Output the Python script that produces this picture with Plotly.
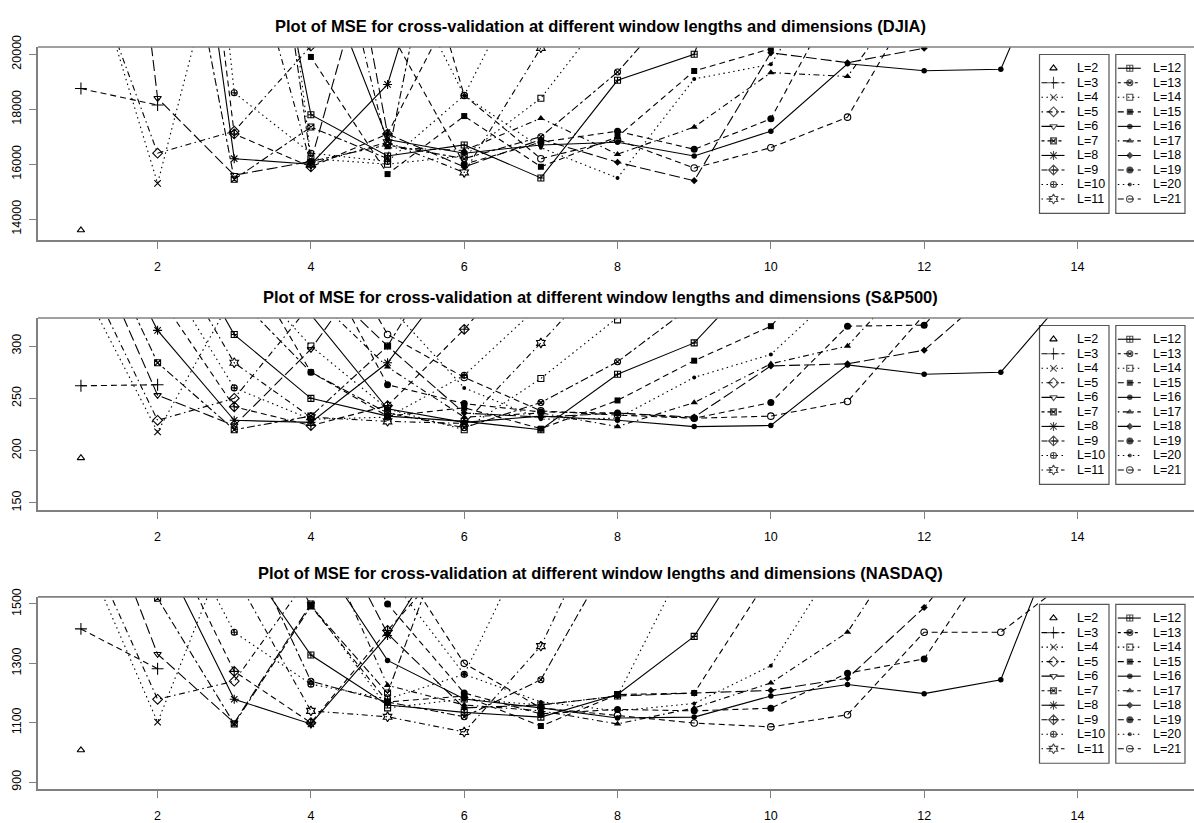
import plotly.graph_objects as go

# ---------------- data ----------------
WINDOWS = list(range(2, 22))          # L = 2 .. 21 ; dimensions 1 .. L-1
X_TICKS = [2, 4, 6, 8, 10, 12, 14]

DJIA_TICKS = [14000, 16000, 18000, 20000]
SP_TICKS = [150, 200, 250, 300]
NASDAQ_TICKS = [900, 1100, 1300, 1500]

DJIA_YLIM = [13500, 20000]
SP_YLIM = [150, 320]
NASDAQ_YLIM = [900, 1500]

DJIA_MSE = [
    [13600],
    [18750, 18150],
    [24500, 15300, 26000],
    [24000, 16400, 17200, 20300],
    [42000, 18400, 15600, 16100, 26000],
    [48000, 30000, 15450, 17350, 16200, 30000],
    [52000, 36000, 16200, 16000, 18900, 28000, 40000],
    [55000, 40000, 17100, 15900, 17100, 22500, 32000, 45000],
    [60000, 45000, 18600, 16400, 16100, 18500, 24000, 32000, 45000],
    [62000, 50000, 26000, 16000, 16800, 15700, 20230, 27000, 36000, 48000],
    [65000, 52000, 32000, 17800, 16300, 16700, 15500, 19050, 20000, 28000, 40000],
    [68000, 56000, 36000, 16100, 16700, 16200, 17000, 19350, 22500, 30000, 40000, 52000],
    [70000, 58000, 40000, 16200, 16000, 16300, 18400, 22000, 28000, 34000, 42000, 52000, 62000],
    [72000, 60000, 45000, 19900, 15640, 17750, 15905, 17000, 19390, 20200, 25000, 32000, 40000, 50000],
    [75000, 62000, 48000, 24000, 16900, 16400, 16700, 16800, 16300, 17200, 19650, 19400, 19450, 26000, 35000],
    [78000, 65000, 50000, 28000, 16600, 16500, 17670, 16360, 17350, 19330, 19190, 23000, 28000, 34000, 42000, 52000],
    [80000, 68000, 52000, 32000, 17100, 15900, 16900, 16070, 15400, 20050, 19690, 20220, 25000, 30000, 38000, 46000, 56000],
    [82000, 70000, 55000, 36000, 21000, 16000, 16800, 17200, 16540, 17650, 22500, 28000, 34000, 40000, 48000, 56000, 64000, 72000],
    [85000, 72000, 58000, 40000, 24000, 18500, 16600, 15500, 19100, 19630, 24000, 30000, 36000, 44000, 52000, 60000, 68000, 76000, 84000],
    [88000, 75000, 60000, 44000, 28000, 18500, 16200, 16890, 15860, 16600, 17710, 22500, 28000, 34000, 42000, 50000, 58000, 66000, 74000, 82000],
]

SP_MSE = [
    [193],
    [262, 263],
    [360, 218, 350],
    [380, 229, 250, 340],
    [420, 253, 224, 297, 400],
    [440, 284, 220, 233, 300, 420],
    [460, 315, 229, 227, 284, 380, 460],
    [480, 350, 242, 224, 243, 316, 400, 480],
    [500, 380, 260, 230, 232, 272, 340, 420, 500],
    [520, 410, 284, 232, 228, 226, 303, 380, 460, 540],
    [540, 440, 311, 250, 233, 228, 220, 273, 303, 380, 460],
    [560, 470, 350, 275, 236, 222, 246, 285, 340, 420, 500, 580],
    [580, 500, 380, 300, 240, 220, 269, 325, 380, 440, 500, 560, 620],
    [600, 520, 400, 275, 233, 241, 221, 248, 286, 319, 400, 480, 560, 640],
    [620, 540, 420, 330, 240, 227, 233, 229, 223, 224, 282, 273, 275, 360, 440],
    [640, 560, 450, 350, 280, 232, 236, 223, 246, 283, 300, 380, 460, 540, 620, 700],
    [660, 580, 470, 370, 300, 236, 232, 236, 232, 281, 283, 296, 360, 440, 520, 600, 680],
    [680, 600, 500, 400, 263, 245, 237, 236, 231, 246, 319, 320, 400, 480, 560, 640, 720, 800],
    [700, 620, 520, 420, 340, 260, 230, 231, 270, 292, 360, 440, 520, 600, 680, 760, 840, 920, 1000],
    [720, 640, 540, 440, 311, 270, 238, 234, 231, 233, 247, 330, 420, 500, 580, 660, 740, 820, 900, 980],
]

NASDAQ_MSE = [
    [1008],
    [1416, 1282],
    [1700, 1102, 1750],
    [1750, 1179, 1240, 1600],
    [2000, 1331, 1100, 1500, 1900],
    [2200, 1519, 1096, 1493, 1200, 1900],
    [2400, 1700, 1179, 1096, 1394, 1800, 2200],
    [2500, 1800, 1273, 1100, 1411, 1700, 2100, 2500],
    [2600, 1900, 1405, 1230, 1180, 1263, 1800, 2200, 2600],
    [2700, 2000, 1600, 1140, 1120, 1069, 1358, 1900, 2300, 2700],
    [2800, 2100, 1700, 1328, 1160, 1135, 1119, 1195, 1391, 1800, 2200],
    [2900, 2200, 1800, 1240, 1170, 1120, 1245, 1700, 2000, 2300, 2600, 2900],
    [3000, 2300, 1900, 1500, 1150, 1180, 1160, 1190, 1700, 2000, 2300, 2600, 2900],
    [3100, 2400, 2000, 1493, 1170, 1190, 1089, 1195, 1200, 1600, 1900, 2200, 2500, 2800],
    [3200, 2500, 2100, 1700, 1310, 1180, 1150, 1116, 1119, 1190, 1229, 1198, 1245, 1900, 2300],
    [3300, 2600, 2200, 1800, 1226, 1160, 1140, 1096, 1150, 1234, 1405, 1800, 2100, 2400, 2700, 3000],
    [3400, 2700, 2300, 1900, 1400, 1150, 1160, 1190, 1200, 1209, 1250, 1488, 1800, 2100, 2400, 2700, 3000],
    [3500, 2800, 2400, 2000, 1500, 1200, 1130, 1145, 1140, 1149, 1267, 1315, 1700, 2000, 2300, 2600, 2900, 3200],
    [3600, 2900, 2500, 2100, 1600, 1263, 1170, 1140, 1165, 1292, 1700, 2000, 2300, 2600, 2900, 3200, 3500, 3800, 4100],
    [3700, 3000, 2600, 2200, 1700, 1300, 1150, 1125, 1099, 1086, 1127, 1405, 1405, 1603, 1900, 2200, 2500, 2800, 3100, 3400],
]

TITLES = [
    "Plot of MSE for cross-validation at different window lengths and dimensions (DJIA)",
    "Plot of MSE for cross-validation at different window lengths and dimensions (S&P500)",
    "Plot of MSE for cross-validation at different window lengths and dimensions (NASDAQ)",
]

# ---------------- styles ----------------
W, H = 1194, 823
FONT = "Liberation Sans, Arial, sans-serif"
FRAME = "#808080"

SYMBOLS = {
    2: ("triangle-up-open", 6.5), 3: ("cross-thin-open", 8.5), 4: ("x-thin-open", 6.5),
    5: ("diamond-open", 7.5), 6: ("triangle-down-open", 6.5), 7: ("square-x-open", 6),
    8: ("asterisk-open", 7.5), 9: ("diamond-cross-open", 7.5), 10: ("circle-cross-open", 6),
    11: ("hexagram-open", 7.5), 12: ("square-cross-open", 6), 13: ("circle-x-open", 6),
    14: ("square-open", 6), 15: ("square", 6), 16: ("circle", 5.5), 17: ("triangle-up", 6.5),
    18: ("diamond", 5.5), 19: ("circle", 7), 20: ("circle", 4), 21: ("circle-open", 6.5),
}
LTY = {2: "solid", 3: "dashed", 4: "dotted", 5: "dotdash", 6: "longdash", 7: "twodash",
       8: "solid", 9: "dashed", 10: "dotted", 11: "dotdash", 12: "solid", 13: "twodash",
       14: "dotted", 15: "dashed", 16: "solid", 17: "dotdash", 18: "longdash", 19: "dashed",
       20: "dotted", 21: "dashed"}
DASH = {"solid": "solid", "dashed": "6px,4px", "dotted": "1.5px,3.5px",
        "dotdash": "1.5px,3.5px,6px,3.5px", "longdash": "11px,4px",
        "twodash": "3px,3px,8px,3px"}


def marker_for(L):
    sym, size = SYMBOLS[L]
    is_open = sym.endswith("-open")
    return dict(symbol=sym, size=size, color="black",
                line=dict(color="black", width=1.1 if is_open else 0))


# plot-area pixel geometry (top, bottom) for each panel
PANEL_PX = [(35.7, 232.3), (311.7, 507.3), (595.7, 791.7)]
LEFT_PX = 38.0
X_RANGE = [0.44, 15.52]
TITLE_Y = [14.0, 290.5, 571.0]

panels = [
    (DJIA_MSE, DJIA_YLIM, DJIA_TICKS),
    (SP_MSE, SP_YLIM, SP_TICKS),
    (NASDAQ_MSE, NASDAQ_YLIM, NASDAQ_TICKS),
]

fig = go.Figure()
layout = dict(
    width=W, height=H, margin=dict(l=0, r=0, t=0, b=0),
    paper_bgcolor="white", plot_bgcolor="rgba(0,0,0,0)",
    showlegend=False, font=dict(family=FONT, size=12, color="black"),
    shapes=[], annotations=[],
)

for p, (data, ylim, yticks) in enumerate(panels):
    sfx = "" if p == 0 else str(p + 1)
    top, bot = PANEL_PX[p]
    pad = (ylim[1] - ylim[0]) * 0.04
    for L, vals in zip(WINDOWS, data):
        xs = list(range(1, len(vals) + 1))
        fig.add_trace(go.Scatter(
            x=xs, y=vals, xaxis="x" + sfx, yaxis="y" + sfx,
            mode="lines+markers" if len(vals) > 1 else "markers",
            line=dict(color="black", width=1.1, dash=DASH[LTY[L]]),
            marker=marker_for(L), hoverinfo="skip",
        ))
    layout["xaxis" + sfx] = dict(
        domain=[LEFT_PX / W, 1.0], range=X_RANGE, tickvals=X_TICKS,
        ticktext=[str(t) for t in X_TICKS],
        ticks="outside", ticklen=7, tickcolor=FRAME, tickwidth=1.2,
        showline=True, linecolor=FRAME, linewidth=1.6, mirror=False,
        showgrid=False, zeroline=False, ticklabelstandoff=7,
        tickfont=dict(family=FONT, size=12.5, color="black"),
        anchor="y" + sfx,
    )
    layout["yaxis" + sfx] = dict(
        domain=[1 - bot / H, 1 - top / H], range=[ylim[0] - pad, ylim[1] + pad],
        tickvals=yticks, ticktext=[str(t) for t in yticks], tickangle=-90,
        ticks="outside", ticklen=7, tickcolor=FRAME, tickwidth=1.2,
        showline=True, linecolor=FRAME, linewidth=1.6, mirror=False,
        showgrid=False, zeroline=False, ticklabelstandoff=3,
        tickfont=dict(family=FONT, size=12.5, color="black"),
        anchor="x" + sfx,
    )
    # top frame line
    layout["shapes"].append(dict(type="line", xref="paper", yref="paper",
                                 x0=LEFT_PX / W, x1=1.0, y0=1 - top / H, y1=1 - top / H,
                                 line=dict(color=FRAME, width=1.6)))
    # title
    layout["annotations"].append(dict(
        text="<b>" + TITLES[p].replace("&", "&amp;") + "</b>", xref="paper", yref="paper",
        x=600 / W, y=1 - TITLE_Y[p] / H, xanchor="center", yanchor="middle",
        showarrow=False, font=dict(family=FONT, size=16.5, color="black")))

    # legend boxes (two columns)
    boxes = [(1039.5, 1109.0), (1115.8, 1185.0)]
    for bx0, bx1 in boxes:
        layout["shapes"].append(dict(type="rect", xref="paper", yref="paper",
                                     x0=bx0 / W, x1=bx1 / W,
                                     y0=1 - (top + 169.5) / H, y1=1 - (top + 7.6) / H,
                                     line=dict(color="#555555", width=1.2),
                                     fillcolor="white", layer="below"))
    for i, L in enumerate(WINDOWS):
        col, row = divmod(i, 10)
        bx0 = boxes[col][0]
        yy = top + 21.6 + 14.8 * row
        seg = [bx0 + 2.0, bx0 + 14.0, bx0 + 25.0]
        mk = marker_for(L)
        if L == 2:
            mode, xs_leg, ys_leg = "markers", [seg[1]], [yy]
        else:
            mode, xs_leg, ys_leg = "lines+markers", seg, [yy, yy, yy]
            mk["size"] = [0, mk["size"], 0]
        fig.add_trace(go.Scatter(
            x=xs_leg, y=ys_leg, xaxis="x4", yaxis="y4", mode=mode,
            line=dict(color="black", width=1.1, dash=DASH[LTY[L]]),
            marker=mk, hoverinfo="skip", cliponaxis=False,
        ))
        layout["annotations"].append(dict(
            text="L=%d" % L, xref="paper", yref="paper",
            x=(bx0 + 35.0) / W, y=1 - yy / H, xanchor="left", yanchor="middle",
            showarrow=False, font=dict(family=FONT, size=12.5, color="black")))

layout["xaxis4"] = dict(domain=[0, 1], range=[0, W], visible=False, anchor="y4",
                        fixedrange=True)
layout["yaxis4"] = dict(domain=[0, 1], range=[H, 0], visible=False, anchor="x4",
                        fixedrange=True)

fig.update_layout(**layout)
fig.write_html("out.html")
